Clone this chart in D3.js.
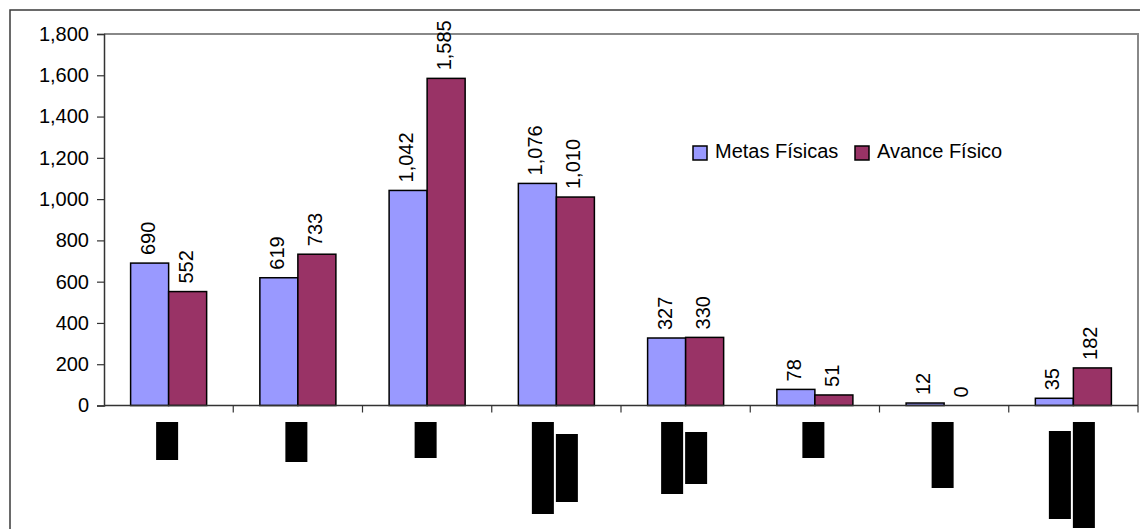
<!DOCTYPE html>
<html>
<head>
<meta charset="utf-8">
<script src="https://cdn.jsdelivr.net/npm/d3@7"></script>
<style>
  html, body { margin: 0; padding: 0; background: #fff; }
  svg { display: block; font-family: "Liberation Sans", Arial, sans-serif; }
</style>
</head>
<body>
<svg id="chart" width="1140" height="529"></svg>
<script>
// ---- data ----
const categories = ["C1", "C2", "C3", "C4", "C5", "C6", "C7", "C8"]; // labels are redacted in the source
const seriesNames = ["Metas Físicas", "Avance Físico"];
const metas = [690, 619, 1042, 1076, 327, 78, 12, 35];
const avance = [552, 733, 1585, 1010, 330, 51, 0, 182];
const yTicks = [0, 200, 400, 600, 800, 1000, 1200, 1400, 1600, 1800];
// redaction masks over category labels: length of each (rotated) label line
const redactedLines = [[38], [40], [36], [92, 68], [72, 52], [36], [66], [88, 106]];

(function () {
// ---- layout ----
const W = 1140, H = 529;
const pLeft = 104, pRight = 1138, pTop = 34, pBottom = 405.5;
const colors = ["#9999FF", "#993366"];
const svg = d3.select("#chart");

// outer chart border
svg.append("rect").attr("x", 10).attr("y", 10).attr("width", W + 20).attr("height", H + 20)
  .attr("fill", "none").attr("stroke", "#3a3a3a").attr("stroke-width", 1.5);

const x0 = d3.scaleBand().domain(categories).range([pLeft, pRight]).paddingInner(0).paddingOuter(0);
const x1 = d3.scaleBand().domain(seriesNames).range([0, x0.bandwidth()]).paddingInner(0).paddingOuter(0.7);
const y = d3.scaleLinear().domain([0, 1800]).range([pBottom, pTop]);

// plot area border (gray top & right)
svg.append("path")
  .attr("d", `M${pLeft},${pTop}H${pRight}V${pBottom}`)
  .attr("fill", "none").attr("stroke", "#888").attr("stroke-width", 2);

// bars
const rows = categories.map((c, i) => ({ c, vals: [metas[i], avance[i]] }));
const g = svg.append("g");
rows.forEach(r => {
  r.vals.forEach((v, j) => {
    const bx = x0(r.c) + x1(seriesNames[j]);
    if (v > 0) {
      g.append("rect")
        .attr("x", bx).attr("y", y(v))
        .attr("width", x1.bandwidth()).attr("height", y(0) - y(v))
        .attr("fill", colors[j]).attr("stroke", "#000").attr("stroke-width", 1.5);
    }
    const cx = bx + x1.bandwidth() / 2 + 5;
    g.append("text")
      .attr("transform", `translate(${cx},${y(v) - 8}) rotate(-90)`)
      .attr("text-anchor", "start")
      .attr("font-size", 20)
      .attr("fill", "#000")
      .text(d3.format(",")(v));
  });
});

// y axis
const yAxis = d3.axisLeft(y).tickValues(yTicks).tickFormat(d3.format(",")).tickSize(7).tickPadding(8);
const ya = svg.append("g").attr("transform", `translate(${pLeft},0)`).call(yAxis);
ya.select(".domain").attr("stroke", "#333").attr("stroke-width", 1.5);
ya.selectAll(".tick line").attr("stroke", "#333").attr("stroke-width", 1.2);
ya.selectAll(".tick text").attr("font-size", 20).attr("font-family", "Liberation Sans, Arial, sans-serif").attr("fill", "#000");

// x axis (baseline with category boundary ticks)
svg.append("line").attr("x1", pLeft).attr("x2", pRight).attr("y1", y(0)).attr("y2", y(0))
  .attr("stroke", "#333").attr("stroke-width", 1.5);
const bounds = categories.map(c => x0(c) + x0.bandwidth());
svg.selectAll(".xtick").data(bounds).enter().append("line")
  .attr("x1", d => d).attr("x2", d => d)
  .attr("y1", y(0)).attr("y2", y(0) + 7)
  .attr("stroke", "#333").attr("stroke-width", 1.2);

// redacted category labels (black masks)
categories.forEach((c, i) => {
  const lines = redactedLines[i];
  const n = lines.length;
  const maxLen = d3.max(lines);
  const cx = x0(c) + x0.bandwidth() / 2 - 1.5;
  const bw = 22, gap = 2;
  const totalW = n * bw + (n - 1) * gap;
  lines.forEach((len, k) => {
    const bx = cx - totalW / 2 + k * (bw + gap);
    const by = 422 + (maxLen - len) / 2;
    svg.append("rect").attr("x", bx).attr("y", by).attr("width", bw).attr("height", len).attr("fill", "#000");
  });
});

// legend
const leg = svg.append("g");
const legX = [693, 855];
seriesNames.forEach((s, j) => {
  leg.append("rect").attr("x", legX[j]).attr("y", 146).attr("width", 14).attr("height", 14)
    .attr("fill", colors[j]).attr("stroke", "#000").attr("stroke-width", 1.5);
  leg.append("text").attr("x", legX[j] + 22).attr("y", 158)
    .attr("font-size", 20).attr("fill", "#000").text(s);
});
})();
</script>
</body>
</html>
